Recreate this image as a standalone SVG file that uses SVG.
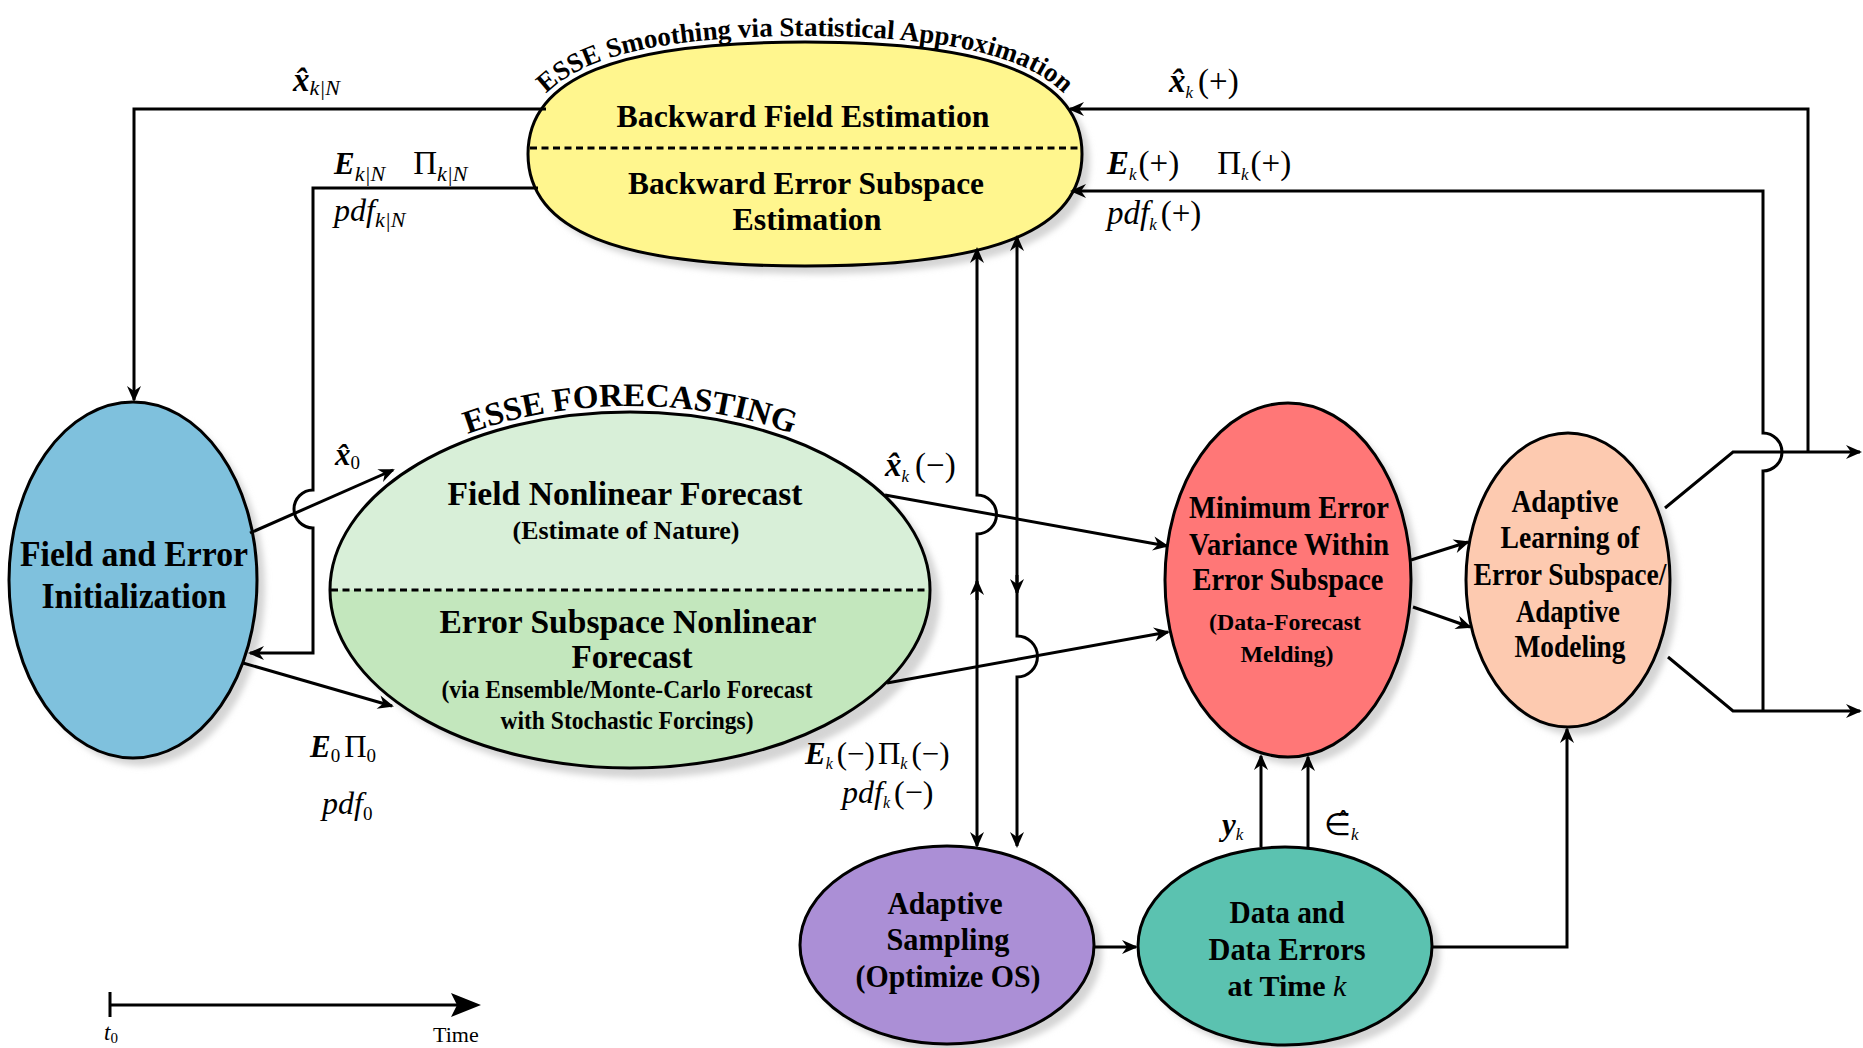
<svg xmlns="http://www.w3.org/2000/svg" width="1863" height="1048" viewBox="0 0 1863 1048">
<style>
.bg{fill:#fff}
.ol{stroke:#000;stroke-width:3}
.sh{fill:#d4d4d4;filter:url(#blur)}
.t{font-family:"Liberation Serif","Times New Roman",serif;font-weight:bold;text-anchor:middle;fill:#000}
.m{font-family:"Liberation Serif","Times New Roman",serif;fill:#000}
.bi{font-weight:bold;font-style:italic}
.it{font-style:italic}
.dash{stroke:#000;stroke-width:3;stroke-dasharray:7 4.5;fill:none}
.c path{fill:none;stroke:#000;stroke-width:3}
.c .a{marker-end:url(#ah)}
.c .aa{marker-start:url(#ah);marker-end:url(#ah)}
</style>
<defs>
<marker id="ah" viewBox="-16 -8 20 16" refX="0" refY="0" markerWidth="20" markerHeight="16" markerUnits="userSpaceOnUse" orient="auto-start-reverse">
<path d="M2,0 L-14,-7 L-9,0 L-14,7 Z" fill="#000"/>
</marker>
<filter id="blur" x="-10%" y="-10%" width="120%" height="120%"><feGaussianBlur stdDeviation="3"/></filter>
<clipPath id="gTop"><rect x="300" y="380" width="700" height="210"/></clipPath>
<path id="yShape" d="M528,154 C528,77.8 616.6,42 805,42 C993.4,42 1082,77.8 1082,154 C1082,230.2 993.4,266 805,266 C616.6,266 528,230.2 528,154 Z"/>
<path id="arcY" d="M522,154 C522,73.8 612.6,36 805,36 C997.4,36 1088,73.8 1088,154"/>
<path id="arcG" d="M324,590 A306,184 0 0 1 936,590"/>
</defs>
<rect class="bg" x="0" y="0" width="1863" height="1048"/>

<!-- Yellow: backward smoothing -->
<g id="backward">
<use href="#yShape" class="sh" transform="translate(8,8)"/>
<use href="#yShape" fill="#fff68e" class="ol"/>
<line class="dash" x1="530" y1="148" x2="1080" y2="148"/>
<text class="t" font-size="27" font-weight="bold"><textPath href="#arcY" startOffset="50%" text-anchor="middle">ESSE Smoothing via Statistical Approximation</textPath></text>
<text class="t" x="803" y="127" font-size="31" textLength="373" lengthAdjust="spacingAndGlyphs">Backward Field Estimation</text>
<text class="t" x="806" y="194" font-size="31" textLength="356" lengthAdjust="spacingAndGlyphs">Backward Error Subspace</text>
<text class="t" x="807" y="230" font-size="31" textLength="149" lengthAdjust="spacingAndGlyphs">Estimation</text>
</g>

<!-- Blue: initialization -->
<g id="init">
<ellipse class="sh" cx="141" cy="588" rx="124" ry="178"/>
<ellipse cx="133" cy="580" rx="124" ry="178" fill="#7fc1dd" class="ol"/>
<text class="t" x="134" y="566" font-size="35" textLength="228" lengthAdjust="spacingAndGlyphs">Field and Error</text>
<text class="t" x="134" y="608" font-size="35" textLength="185" lengthAdjust="spacingAndGlyphs">Initialization</text>
</g>

<!-- Green: forecasting -->
<g id="forecast">
<ellipse class="sh" cx="640" cy="600" rx="300" ry="178"/>
<ellipse cx="630" cy="590" rx="300" ry="178" fill="#c3e7bd"/>
<ellipse cx="630" cy="590" rx="300" ry="178" fill="#d8efd8" clip-path="url(#gTop)"/>
<line class="dash" x1="331" y1="590" x2="929" y2="590"/>
<ellipse cx="630" cy="590" rx="300" ry="178" fill="none" class="ol"/>
<text class="t" font-size="33"><textPath href="#arcG" startOffset="50%" text-anchor="middle">ESSE FORECASTING</textPath></text>
<text class="t" x="625" y="505" font-size="33" textLength="355" lengthAdjust="spacingAndGlyphs">Field Nonlinear Forecast</text>
<text class="t" x="626" y="539" font-size="25" textLength="227" lengthAdjust="spacingAndGlyphs">(Estimate of Nature)</text>
<text class="t" x="628" y="633" font-size="33" textLength="377" lengthAdjust="spacingAndGlyphs">Error Subspace Nonlinear</text>
<text class="t" x="632" y="668" font-size="33" textLength="121" lengthAdjust="spacingAndGlyphs">Forecast</text>
<text class="t" x="627" y="698" font-size="25" textLength="371" lengthAdjust="spacingAndGlyphs">(via Ensemble/Monte-Carlo Forecast</text>
<text class="t" x="627" y="729" font-size="25" textLength="253" lengthAdjust="spacingAndGlyphs">with Stochastic Forcings)</text>
</g>

<!-- Red: minimum error variance -->
<g id="melding">
<ellipse class="sh" cx="1296" cy="588" rx="123" ry="177"/>
<ellipse cx="1288" cy="580" rx="123" ry="177" fill="#ff7777" class="ol"/>
<text class="t" x="1289" y="518" font-size="32" textLength="200" lengthAdjust="spacingAndGlyphs">Minimum Error</text>
<text class="t" x="1289" y="555" font-size="32" textLength="200" lengthAdjust="spacingAndGlyphs">Variance Within</text>
<text class="t" x="1288" y="590" font-size="32" textLength="191" lengthAdjust="spacingAndGlyphs">Error Subspace</text>
<text class="t" x="1285" y="630" font-size="23" textLength="152" lengthAdjust="spacingAndGlyphs">(Data-Forecast</text>
<text class="t" x="1287" y="662" font-size="23" textLength="93" lengthAdjust="spacingAndGlyphs">Melding)</text>
</g>

<!-- Peach: adaptive learning -->
<g id="learning">
<ellipse class="sh" cx="1576" cy="588" rx="102" ry="147"/>
<ellipse cx="1568" cy="580" rx="102" ry="147" fill="#fdcab0" class="ol"/>
<text class="t" x="1565" y="512" font-size="31" textLength="107" lengthAdjust="spacingAndGlyphs">Adaptive</text>
<text class="t" x="1570" y="548" font-size="31" textLength="139" lengthAdjust="spacingAndGlyphs">Learning of</text>
<text class="t" x="1570" y="585" font-size="31" textLength="193" lengthAdjust="spacingAndGlyphs">Error Subspace/</text>
<text class="t" x="1568" y="622" font-size="31" textLength="104" lengthAdjust="spacingAndGlyphs">Adaptive</text>
<text class="t" x="1570" y="657" font-size="31" textLength="111" lengthAdjust="spacingAndGlyphs">Modeling</text>
</g>

<!-- Purple: adaptive sampling -->
<g id="sampling">
<ellipse class="sh" cx="955" cy="953" rx="147" ry="99"/>
<ellipse cx="947" cy="945" rx="147" ry="99" fill="#ab8fd6" class="ol"/>
<text class="t" x="945" y="914" font-size="32" textLength="115" lengthAdjust="spacingAndGlyphs">Adaptive</text>
<text class="t" x="948" y="950" font-size="32" textLength="123" lengthAdjust="spacingAndGlyphs">Sampling</text>
<text class="t" x="948" y="987" font-size="32" textLength="185" lengthAdjust="spacingAndGlyphs">(Optimize OS)</text>
</g>

<!-- Teal: data -->
<g id="data">
<ellipse class="sh" cx="1293" cy="954" rx="147" ry="99"/>
<ellipse cx="1285" cy="946" rx="147" ry="99" fill="#5bc2b0" class="ol"/>
<text class="t" x="1287" y="923" font-size="32" textLength="115" lengthAdjust="spacingAndGlyphs">Data and</text>
<text class="t" x="1287" y="960" font-size="32" textLength="157" lengthAdjust="spacingAndGlyphs">Data Errors</text>
<text class="t" x="1287" y="996" font-size="30">at Time <tspan font-style="italic" font-weight="normal">k</tspan></text>
</g>

<!-- Connectors -->
<g id="connectors" class="c">
<path class="a" d="M546,109 H134 V400"/>
<path class="a" d="M538,188 H313 V490 A19,19 0 0 0 313,528 V653 H250"/>
<path class="a" d="M250,533 L393,470"/>
<path class="a" d="M243,663 L392,706"/>
<path class="a" d="M885,495 L1167,546"/>
<path class="a" d="M887,683 L1168,632"/>
<path class="aa" d="M977,846 V534 A19.5,19.5 0 0 0 977,495 V249"/>
<path class="a" d="M977,600 V581"/>
<path class="aa" d="M1017,846 V677 A20.5,20.5 0 0 0 1017,636 V237"/>
<path class="a" d="M1017,575 V593"/>
<path class="a" d="M1094,947 H1136"/>
<path class="a" d="M1431,947 H1567 V729"/>
<path class="a" d="M1261,847 V756"/>
<path class="a" d="M1308,848 V757"/>
<path class="a" d="M1411,560 L1468,542"/>
<path class="a" d="M1413,607 L1470,627"/>
<path class="a" d="M1665,508 L1733,452 H1860"/>
<path class="a" d="M1668,657 L1733,711 H1860"/>
<path class="a" d="M1808,452 V109 H1070"/>
<path class="a" d="M1763,711 V471 A19,19 0 0 0 1763,433 V191 H1072"/>
</g>

<!-- Connector labels -->
<g id="labels">
<text class="m" x="293" y="91" font-size="33"><tspan class="bi">x̂</tspan><tspan class="it" font-size="22" dy="4">k|N</tspan></text>
<text class="m" x="334" y="174" font-size="31"><tspan class="bi">E</tspan><tspan class="it" font-size="22" dy="7">k|N</tspan><tspan dx="28" dy="-7" font-size="33">Π</tspan><tspan class="it" font-size="22" dy="7">k|N</tspan></text>
<text class="m" x="334" y="221" font-size="32"><tspan class="it">pdf</tspan><tspan class="it" font-size="22" dy="6">k|N</tspan></text>

<text class="m" x="1169" y="92" font-size="33"><tspan class="bi">x̂</tspan><tspan class="it" font-size="17" dy="6">k</tspan><tspan dx="5" dy="-6">(+)</tspan></text>
<text class="m" x="1107" y="174" font-size="33"><tspan class="bi">E</tspan><tspan class="it" font-size="17" dy="6">k</tspan><tspan dx="2" dy="-6">(+)</tspan><tspan dx="38">Π</tspan><tspan class="it" font-size="17" dy="6">k</tspan><tspan dx="2" dy="-6">(+)</tspan></text>
<text class="m" x="1107" y="224" font-size="33"><tspan class="it">pdf</tspan><tspan class="it" font-size="17" dy="6">k</tspan><tspan dx="4" dy="-6">(+)</tspan></text>

<text class="m" x="335" y="465" font-size="31"><tspan class="bi">x̂</tspan><tspan font-size="19" dy="4">0</tspan></text>
<text class="m" x="310" y="757" font-size="31"><tspan class="bi">E</tspan><tspan font-size="19" dy="5">0</tspan><tspan dx="4" dy="-5">Π</tspan><tspan font-size="19" dy="5">0</tspan></text>
<text class="m" x="322" y="814" font-size="32"><tspan class="it">pdf</tspan><tspan font-size="19" dy="6">0</tspan></text>

<text class="m" x="885" y="476" font-size="33"><tspan class="bi">x̂</tspan><tspan class="it" font-size="17" dy="6">k</tspan><tspan dx="6" dy="-6">(−)</tspan></text>
<text class="m" x="805" y="764" font-size="31"><tspan class="bi">E</tspan><tspan class="it" font-size="16" dy="5">k</tspan><tspan dx="4" dy="-5">(−)</tspan><tspan dx="3">Π</tspan><tspan class="it" font-size="16" dy="5">k</tspan><tspan dx="4" dy="-5">(−)</tspan></text>
<text class="m" x="842" y="803" font-size="32"><tspan class="it">pdf</tspan><tspan class="it" font-size="16" dy="5">k</tspan><tspan dx="4" dy="-5">(−)</tspan></text>

<text class="m" x="1222" y="835" font-size="31"><tspan class="bi">y</tspan><tspan class="it" font-size="17" dy="5">k</tspan></text>
<text class="m" x="1324" y="835" font-size="31"><tspan>∈̂</tspan><tspan class="it" font-size="17" dy="5">k</tspan></text>
</g>

<!-- Time axis -->
<g id="timeaxis">
<path d="M110,992 V1017 M110,1005 H460" stroke="#000" stroke-width="3" fill="none"/>
<path d="M481,1005 L451,993 L457,1005 L451,1017 Z" fill="#000"/>
<text class="m" x="104" y="1040" font-size="23"><tspan class="it">t</tspan><tspan font-size="15" dy="3">0</tspan></text>
<text class="m" x="433" y="1042" font-size="22">Time</text>
</g>
</svg>
